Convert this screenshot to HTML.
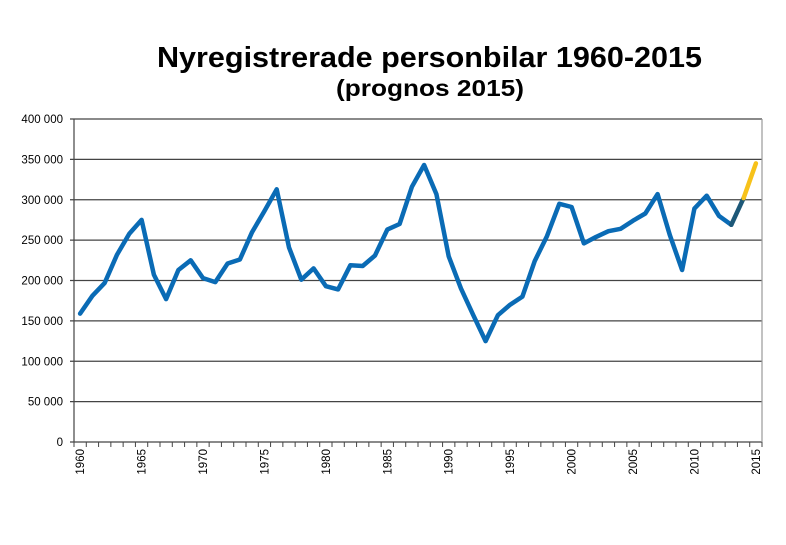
<!DOCTYPE html>
<html><head><meta charset="utf-8"><style>
body{margin:0;background:#fff}
svg{display:block;font-family:"Liberation Sans",Arial,sans-serif}
</style></head><body>
<svg width="786" height="545" viewBox="0 0 786 545" xmlns="http://www.w3.org/2000/svg">
<rect width="786" height="545" fill="#fff"/>
<text x="157" y="67" font-size="29" font-weight="bold" textLength="545" lengthAdjust="spacingAndGlyphs">Nyregistrerade personbilar 1960-2015</text>
<text x="336" y="96" font-size="23" font-weight="bold" textLength="188" lengthAdjust="spacingAndGlyphs">(prognos 2015)</text>
<g id="grid" stroke="#444" stroke-width="1.2"></g>
<g id="lab" font-size="11.5" fill="#000" text-anchor="end"></g>
<g id="xt" stroke="#444" stroke-width="1"></g>
<g id="xl" font-size="11.5" fill="#000"></g>
<line x1="74" y1="119" x2="74" y2="442" stroke="#444" stroke-width="1.2"/>
<line x1="762" y1="119" x2="762" y2="442" stroke="#999" stroke-width="1.2"/>
<polyline id="s1" fill="none" stroke="#0a6bb5" stroke-width="4.5" stroke-linejoin="round" stroke-linecap="round"/>
<polyline id="s2" fill="none" stroke="#1d5878" stroke-width="4.5" stroke-linecap="round"/>
<polyline id="s3" fill="none" stroke="#f7c21a" stroke-width="4.5" stroke-linecap="round"/>
</svg>
<script>
var ns="http://www.w3.org/2000/svg";
function el(p,t,a,txt){var e=document.createElementNS(ns,t);for(var k in a)e.setAttribute(k,a[k]);if(txt)e.textContent=txt;document.getElementById(p).appendChild(e);}
function Y(v){return 442-v*323/400000;}
for(var i=0;i<=8;i++){var y=Y(i*50000);
 el('grid','line',{x1:70,y1:y,x2:762,y2:y});
 el('lab','text',{x:63,y:y+4},i==0?'0':(i*50)+' 000');}
var w=688/56;
for(var i=0;i<=56;i++){var x=74+w*i;el('xt','line',{x1:x,y1:442,x2:x,y2:447});}
for(var yr=1960;yr<=2015;yr+=5){var x=74+w*(yr-1960+0.5)+4;
 el('xl','text',{x:x,y:449,transform:'rotate(-90 '+x+' 449)','text-anchor':'end'},''+yr);}
var d=[159,181,197,232,258,275,207,177,213,225,203,198,221,226,260,286,313,241,201,215,193,189,219,218,231,263,270,316,343,307,230,190,157,125,157,170,180,224,255,295,291,246,254,261,264,274,283,307,256,213,289,305,280,269,302,345];
function P(i){return (74+w*(i+0.5)).toFixed(1)+','+Y(d[i]*1000).toFixed(1);}
var a=[];for(var i=0;i<=53;i++)a.push(P(i));
document.getElementById('s1').setAttribute('points',a.join(' '));
document.getElementById('s2').setAttribute('points',P(53)+' '+P(54));
document.getElementById('s3').setAttribute('points',P(54)+' '+P(55));
</script>
</body></html>
